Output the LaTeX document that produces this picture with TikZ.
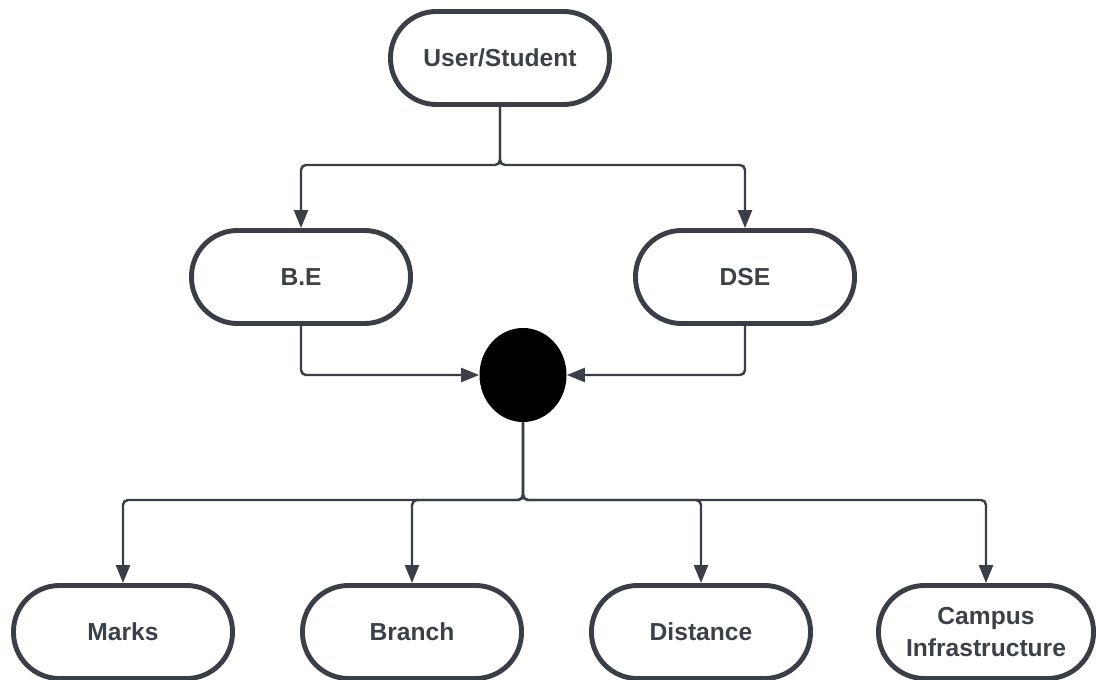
\documentclass[tikz,border=0pt]{standalone}
\usepackage{fontspec}
\setmainfont{Liberation Sans}
\usepackage{tikz}
\usetikzlibrary{arrows.meta, shapes.geometric}
\definecolor{LineGray}{HTML}{3A3F47}
\definecolor{TextGray}{HTML}{3C4049}

\begin{document}
\begin{tikzpicture}[x=0.2mm, y=0.2mm,
    pill/.style={draw=LineGray, line width=2.8pt, rounded corners=9.2mm,
      minimum width=43.8mm, minimum height=18.6mm, align=center,
      text=TextGray, font=\fontsize{14pt}{18pt}\selectfont\bfseries},
    conn/.style={draw=LineGray, line width=1.4pt, rounded corners=1mm,
      -{Triangle[length=3.6mm, width=2.8mm]}},
    joinpt/.style={ellipse, fill=black, minimum width=17.4mm, minimum height=18.8mm, inner sep=0pt}]
  \useasboundingbox (0,0) rectangle (1096,679);
  % Top: user, then the two course types
  \node[pill] (user) at (500,621) {User/Student};
  \node[pill] (be) at (301,402) {B.E};
  \node[pill] (dse) at (745,402) {DSE};
  % Merge point
  \node[joinpt] (merge) at (523,304) {};
  % Bottom row: criteria
  \node[pill] (marks) at (123,47) {Marks};
  \node[pill] (branch) at (412,47) {Branch};
  \node[pill] (distance) at (701,47) {Distance};
  \node[pill, minimum width=43mm] (campus) at (986,47) {Campus\\Infrastructure};
  % Split points
  \coordinate (splitA) at (500,514);
  \coordinate (splitB) at (523,179);
  % User -> B.E / DSE
  \draw[conn] (user.south) -- (splitA) -| (be.north);
  \draw[conn] (user.south) -- (splitA) -| (dse.north);
  % B.E / DSE -> merge
  \draw[conn] (be.south) |- (merge.west);
  \draw[conn] (dse.south) |- (merge.east);
  % merge -> criteria
  \foreach \crit in {marks, branch, distance, campus}
    \draw[conn] (merge.south) -- (splitB) -| (\crit.north);
\end{tikzpicture}
\end{document}
